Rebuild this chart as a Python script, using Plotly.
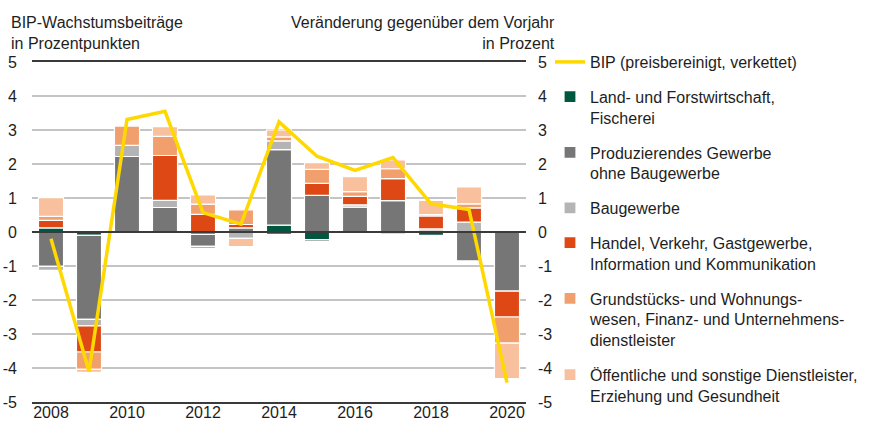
import plotly.graph_objects as go

years = list(range(2008, 2021))
year_ticks = list(range(2008, 2021, 2))
y_ticks = list(range(-5, 6))
y_tick_labels = [str(v) for v in y_ticks]  # plain hyphen as in the original

land =     [0.12, -0.10, 0.00, 0.00, -0.07, 0.00, 0.20, -0.22, 0.00, 0.00, -0.10, 0.00, 0.00]
prod =     [-1.01, -2.47, 2.22, 0.72, -0.35, 0.12, 2.22, 1.08, 0.73, 0.92, 0.03, -0.85, -1.74]
bau =      [-0.12, -0.19, 0.33, 0.21, -0.07, -0.19, 0.26, -0.06, 0.07, -0.06, 0.06, 0.29, 0.00]
handel =   [0.22, -0.77, 0.00, 1.32, 0.52, 0.10, -0.08, 0.35, 0.25, 0.65, 0.38, 0.42, -0.76]
grund =    [0.12, -0.51, 0.57, 0.56, 0.30, 0.43, 0.12, 0.41, 0.14, 0.29, 0.04, 0.12, -0.77]
oeff =     [0.55, -0.09, 0.04, 0.29, 0.27, -0.24, 0.20, 0.20, 0.44, 0.26, 0.42, 0.50, -1.04]
bip =      [-0.20, -4.10, 3.31, 3.55, 0.57, 0.23, 3.24, 2.23, 1.81, 2.19, 0.83, 0.66, -4.43]

series = [
    ("Land- und Forstwirtschaft,<br>Fischerei", land, "#00573F"),
    ("Produzierendes Gewerbe<br>ohne Baugewerbe", prod, "#767676"),
    ("Baugewerbe", bau, "#B4B4B4"),
    ("Handel, Verkehr, Gastgewerbe,<br>Information und Kommunikation", handel, "#DD4814"),
    ("Grundstücks- und Wohnungs-<br>wesen, Finanz- und Unternehmens-<br>dienstleister", grund, "#F19F6C"),
    ("Öffentliche und sonstige Dienstleister,<br>Erziehung und Gesundheit", oeff, "#F8C09C"),
]

font_family = "Liberation Sans, Arial, sans-serif"
txt_color = "#1e1e1e"

fig = go.Figure()
fig.add_trace(go.Scatter(
    x=years, y=bip, mode="lines", name="BIP (preisbereinigt, verkettet)",
    line=dict(color="#FFD800", width=3.5), yaxis="y2", legendgroup="g0",
))
for i, (name, vals, col) in enumerate(series):
    fig.add_trace(go.Bar(
        x=years, y=vals, name=name, marker=dict(color=col, line=dict(color="white", width=1.2)),
        width=0.66, legendgroup=f"g{i+1}",
    ))

L, R, T, B = 32, 345, 62, 27
W, H = 871, 429
PW, PH = W - L - R, H - T - B

fig.update_layout(
    width=W, height=H,
    margin=dict(l=L, r=R, t=T, b=B, pad=0, autoexpand=False),
    barmode="relative",
    plot_bgcolor="white", paper_bgcolor="white",
    font=dict(family=font_family, size=16, color=txt_color),
    showlegend=True,
    legend=dict(
        xref="container", yref="container",
        x=550 / W, xanchor="left",
        y=1 - 45 / H, yanchor="top",
        traceorder="grouped", tracegroupgap=11, valign="top",
        maxheight=420,
        font=dict(size=16, family=font_family, color=txt_color),
        bgcolor="rgba(0,0,0,0)",
    ),
    xaxis=dict(
        range=[2007.5, 2020.5], tickvals=year_ticks,
        showgrid=False, zeroline=False, ticks="", showline=True, linecolor="#3a3a3a",
        linewidth=2, mirror=True, tickfont=dict(size=16), ticklabelstandoff=-5,
    ),
    yaxis=dict(
        range=[-5, 5], tickvals=y_ticks, ticktext=y_tick_labels, showgrid=True, gridcolor="#C4C4C4",
        gridwidth=1.5, zeroline=True, zerolinecolor="#3a3a3a", zerolinewidth=1.5,
        zerolinelayer="above traces",
        ticks="", tickfont=dict(size=16), ticklabelstandoff=14, showline=False,
    ),
    yaxis2=dict(
        range=[-5, 5], tickvals=y_ticks, ticktext=y_tick_labels, overlaying="y", side="right",
        showgrid=False, zeroline=False, ticks="", tickfont=dict(size=16),
        ticklabelstandoff=11, showline=False,
    ),
    annotations=[
        dict(text="BIP-Wachstumsbeiträge<br>in Prozentpunkten", xref="paper", yref="paper",
             x=(9 - L) / PW, y=(H - B - 12) / PH, xanchor="left", yanchor="top",
             align="left", showarrow=False, font=dict(size=16)),
        dict(text="Veränderung gegenüber dem Vorjahr<br>in Prozent", xref="paper", yref="paper",
             x=(557 - L) / PW, y=(H - B - 12) / PH, xanchor="right", yanchor="top",
             align="right", showarrow=False, font=dict(size=16)),
    ],
)

fig.write_html("out.html", config={"displayModeBar": False},
               post_script="document.body.style.margin='0';")
